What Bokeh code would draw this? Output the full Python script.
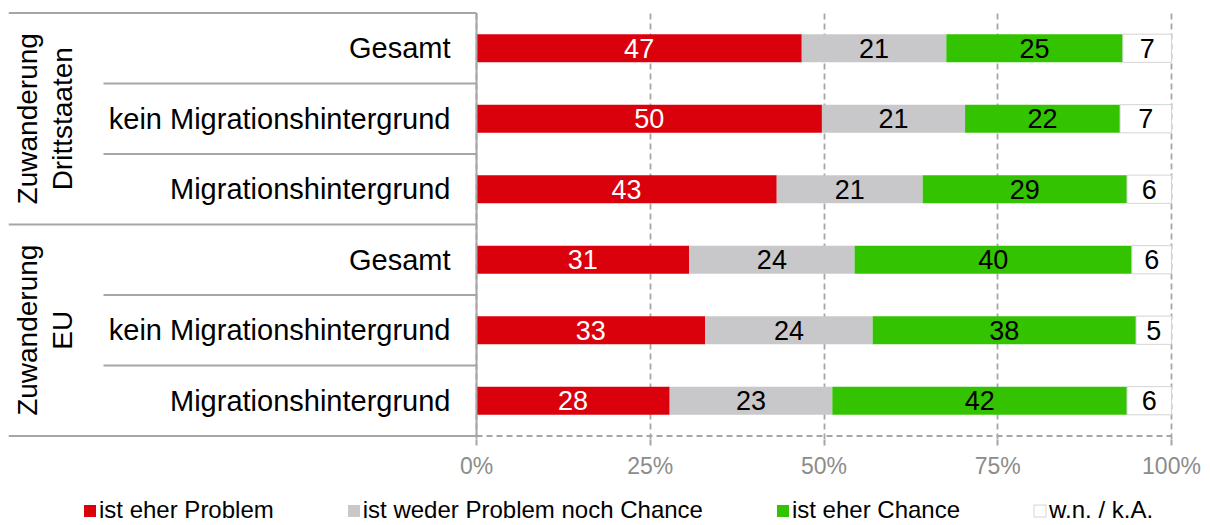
import math
from bokeh.plotting import figure
from bokeh.layouts import column
from bokeh.models import (ColumnDataSource, FactorRange, Range1d, FixedTicker,
                          PrintfTickFormatter, Legend, LegendItem)
from bokeh.core.properties import value
from bokeh.embed import file_html
from bokeh.resources import INLINE

# ---------------- data ----------------
group_lines = [["Zuwanderung", "Drittstaaten"], ["Zuwanderung", "EU"]]
subcategories = ["Gesamt", "kein Migrationshintergrund", "Migrationshintergrund"]
series_names = ["ist eher Problem", "ist weder Problem noch Chance",
                "ist eher Chance", "w.n. / k.A."]
problem = [46.8, 49.7, 43.2, 30.6, 32.9, 27.8]
neither = [20.8, 20.6, 21.0, 23.8, 24.1, 23.4]
chance = [25.4, 22.3, 29.4, 39.9, 37.9, 42.4]
dont_know = [7.0, 7.4, 6.4, 5.7, 5.1, 6.4]
x_ticks = [0, 25, 50, 75, 100]

# ---------------- style ----------------
FONT = value("Liberation Sans")
fill_colors = ["#da000c", "#c8c8ca", "#33c300", "#ffffff"]
edge_colors = [None, None, None, "#d4d4d4"]
value_colors = ["#ffffff", "#000000", "#000000", "#000000"]
GRID = "#a6a6a6"

W, H_MAIN, H_LEG = 1204, 486, 38
LEFT = 8                 # left border (px)
FRAME_W = 1168           # frame width in px
ZERO_PX = 468            # frame px where 0 % sits
PX_PER_PCT = 6.95


def px(xpix):
    """frame pixel -> data x"""
    return (xpix - ZERO_PX) / PX_PER_PCT


groups = [" ".join(g) for g in group_lines]
rows = [(g, s) for g in groups for s in subcategories]      # top -> bottom

x_range = Range1d(px(0), px(FRAME_W))
y_range = FactorRange(factors=list(reversed(rows)), factor_padding=0.0,
                      group_padding=0.0, range_padding=0.05,
                      range_padding_units="absolute")

p = figure(width=W, height=H_MAIN, x_range=x_range, y_range=y_range,
           output_backend="svg", toolbar_location=None, y_axis_location=None,
           min_border_left=LEFT, min_border_right=W - LEFT - FRAME_W,
           min_border_top=9, min_border_bottom=H_MAIN - 9 - 430)
p.outline_line_color = None
p.background_fill_color = "#ffffff"
p.border_fill_color = "#ffffff"

# grid
p.ygrid.visible = False
p.xgrid.ticker = FixedTicker(ticks=x_ticks)
p.xgrid.grid_line_color = GRID
p.xgrid.grid_line_dash = "6 4"
p.xgrid.grid_line_width = 1.8

# x axis
ax = p.xaxis[0]
ax.ticker = FixedTicker(ticks=x_ticks)
ax.formatter = PrintfTickFormatter(format="%d%%")
ax.axis_line_color = None
ax.major_tick_line_color = GRID
ax.major_tick_line_width = 2
ax.major_tick_out = 6
ax.major_tick_in = 0
ax.minor_tick_line_color = None
ax.major_label_text_color = "#8c8c8c"
ax.major_label_text_font = "Liberation Sans"
ax.major_label_text_font_size = "23px"
ax.major_label_standoff = 7

# bars + value labels
series = [problem, neither, chance, dont_know]
left = [0.0] * len(rows)
for vals, fc, ec, tc in zip(series, fill_colors, edge_colors, value_colors):
    right = [l + v for l, v in zip(left, vals)]
    src = ColumnDataSource(dict(
        y=rows, left=left, right=right,
        mid=[(l + r) / 2 for l, r in zip(left, right)],
        label=[str(int(v + 0.5)) for v in vals]))
    p.hbar(y="y", left="left", right="right", height=0.4, source=src,
           fill_color=fc, line_color=ec, line_width=1)
    p.text(x="mid", y="y", text="label", source=src, text_align="center",
           text_baseline="middle", text_color=tc, text_font=FONT,
           text_font_size="27px")
    left = right

# category labels
p.text(x=[px(442)] * len(rows), y=rows, text=[s for _, s in rows],
       text_align="right", text_baseline="middle", text_color="#000000",
       text_font=FONT, text_font_size="29px")

# group labels (two lines, rotated)
for g, lines in zip(groups, group_lines):
    for xpix, t in zip([19, 54], lines):
        p.text(x=[px(xpix)], y=[(g, subcategories[1])], text=[t],
               angle=math.pi / 2, text_align="center", text_baseline="middle",
               text_color="#000000", text_font=FONT, text_font_size="28px")

# separator lines of the category area
top_edge = rows[0] + (0.5,)
bottom_edge = rows[-1] + (-0.5,)
group_edge = rows[2] + (-0.5,)
inner_edges = [rows[0] + (-0.5,), rows[1] + (-0.5,),
               rows[3] + (-0.5,), rows[4] + (-0.5,)]
outer_edges = [top_edge, group_edge, bottom_edge]
p.segment(x0=[px(0)] * 3, x1=[0] * 3, y0=outer_edges, y1=outer_edges,
          line_color=GRID, line_width=2)
p.segment(x0=[px(95)] * 4, x1=[0] * 4, y0=inner_edges, y1=inner_edges,
          line_color=GRID, line_width=2)
# value axis line (dashed) and category axis line
p.segment(x0=[0], x1=[100], y0=[bottom_edge], y1=[bottom_edge],
          line_color=GRID, line_width=2, line_dash="6 4")
p.segment(x0=[0], x1=[0], y0=[bottom_edge], y1=[top_edge],
          line_color=GRID, line_width=2)

# ---------------- legend strip ----------------
pl = figure(width=W, height=H_LEG, x_range=Range1d(0, 1), y_range=Range1d(0, 1),
            output_backend="svg", toolbar_location=None,
            x_axis_location=None, y_axis_location=None, min_border=0)
pl.outline_line_color = None
pl.xgrid.visible = False
pl.ygrid.visible = False
leg_renderers = []
for fc, ec in zip(fill_colors, edge_colors):
    # zero-size proxy bar: only provides the legend swatch style
    leg_renderers.append(pl.hbar(y=[0], left=[0], right=[0], height=0,
                                 fill_color=fc, line_color=ec, line_width=1))
legend = Legend(items=[LegendItem(label=n, renderers=[r])
                       for n, r in zip(series_names, leg_renderers)],
                orientation="horizontal", location=(74, 0),
                glyph_width=15, glyph_height=15, label_standoff=2,
                spacing=72, padding=0, margin=0, border_line_color=None,
                background_fill_alpha=0, label_text_font="Liberation Sans",
                label_text_font_size="24px", label_text_color="#000000")
pl.add_layout(legend)

layout = column(p, pl, spacing=0)
open("out.html", "w").write(file_html(layout, INLINE))
